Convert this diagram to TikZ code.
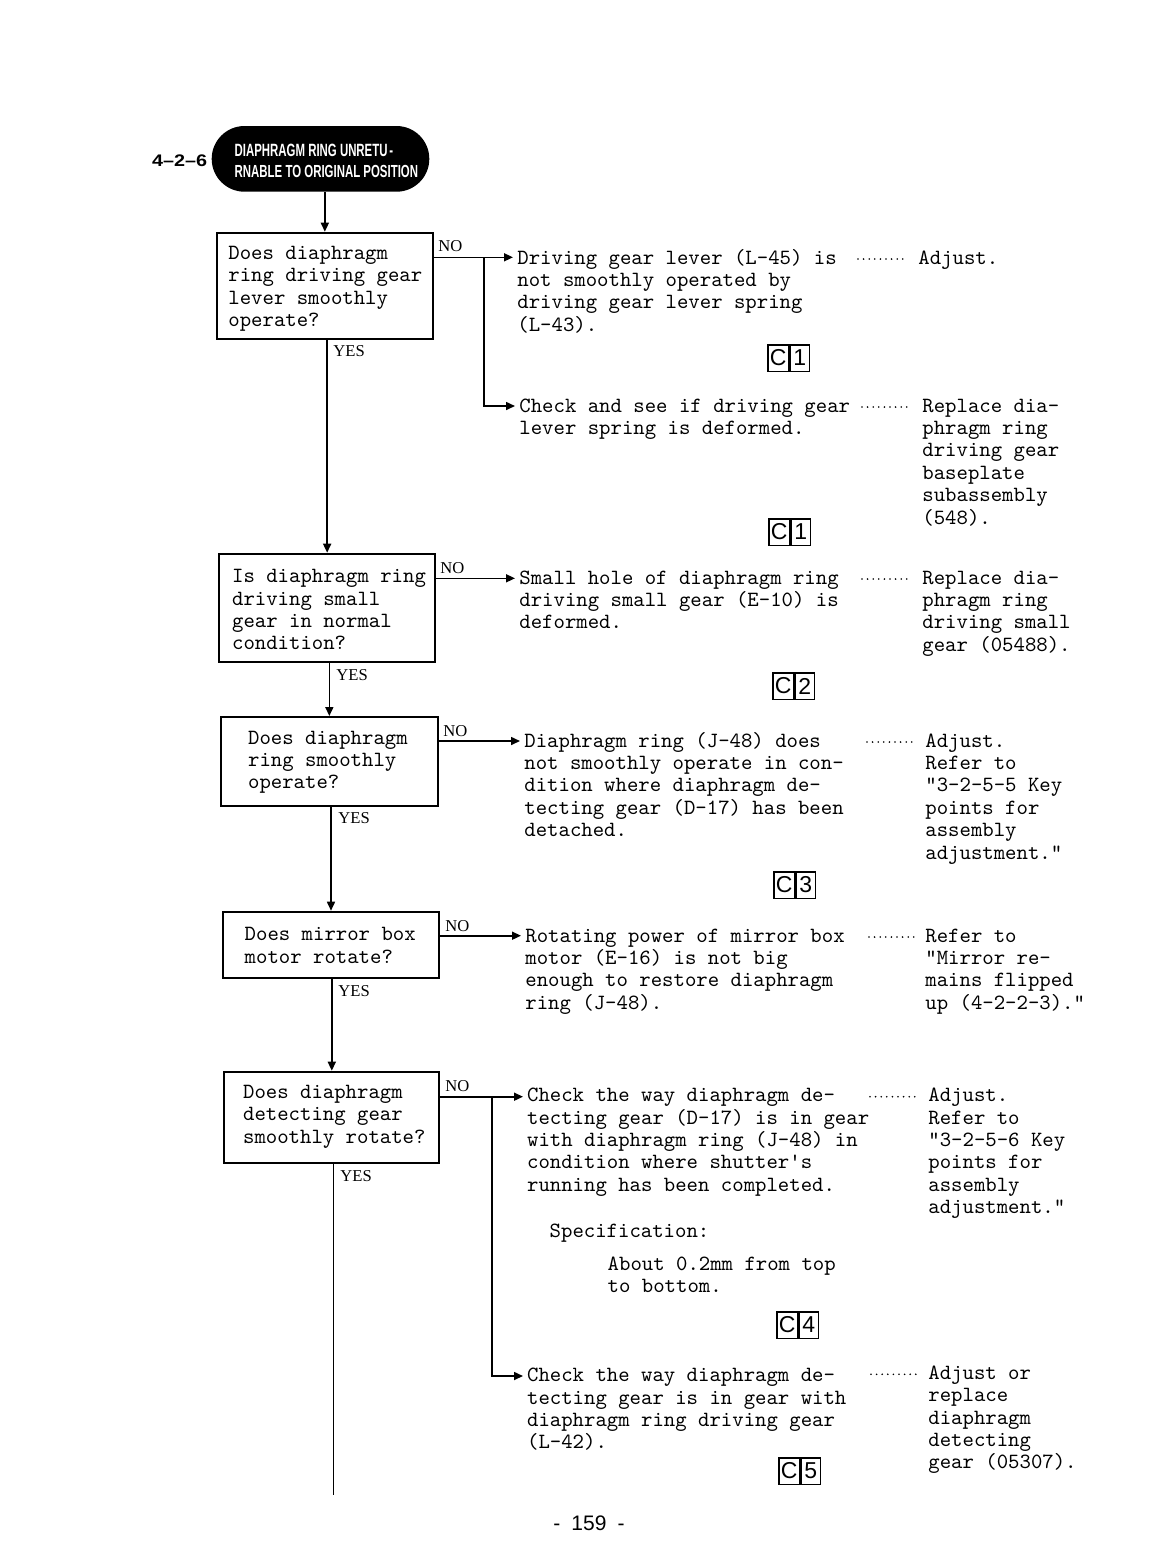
\documentclass[tikz,border=0pt]{standalone}
\usepackage{fontspec}
\usepackage{graphicx}
\usetikzlibrary{arrows.meta}
\newfontfamily\hs{Liberation Sans}
\newfontfamily\lbl{Liberation Serif}
\newcommand\tw{\ttfamily}
\newcommand\ml[1]{\begin{tabular}[t]{@{}l@{}}#1\end{tabular}}
\begin{document}
\begin{tikzpicture}[x=0.5pt,y=-0.5pt,
  txt/.style={font=\tw\fontsize{10.86}{11.2}\selectfont, inner sep=0pt, anchor=base west},
  yn/.style={font=\lbl\fontsize{8.3}{9}\selectfont, inner sep=0pt, anchor=base west},
  qbox/.style={draw, line width=1pt, inner sep=0pt, anchor=north west},
  conn/.style={line width=0.8pt},
  arr/.style={line width=0.8pt, -{Triangle[length=4.5pt,width=4pt]}},
  leader/.style={line width=0.9pt, line cap=round, dash pattern=on 0pt off 2.8pt},
  ccell/.style={draw, line width=0.75pt, inner sep=0pt, anchor=north west, minimum height=13.25pt, font=\hs\fontsize{11.5}{12}\selectfont}
]
\fill[white] (0,0) rectangle (1168,1560);
\useasboundingbox (0,0) rectangle (1168,1560);

% header
\node[inner sep=0pt, anchor=base west, font=\hs\bfseries\fontsize{8}{8}\selectfont] (num) at (151.7,166.7) {\resizebox{27.5pt}{5.85pt}{4\textendash 2\textendash 6}};
\node[fill=black, rounded corners=16.4pt, minimum width=108.8pt, minimum height=32.85pt, inner sep=0pt] (hd) at (320.5,158.85) {};
\node[inner sep=0pt, anchor=base west, text=white, font=\hs\bfseries\fontsize{8}{10.65}\selectfont] (hdt) at (234.3,156) {\ml{\resizebox{79.3pt}{6.2pt}{DIAPHRAGM RING UNRETU\,-}\\\resizebox{91.7pt}{6.1pt}{RNABLE TO ORIGINAL POSITION}}};

% question boxes
\node[qbox, minimum width=107.85pt, minimum height=53.3pt] (q1) at (216,231.7) {};
\node[qbox, minimum width=107.85pt, minimum height=54pt] (q2) at (218.3,552.7) {};
\node[qbox, minimum width=108.35pt, minimum height=44.5pt] (q3) at (220,716) {};
\node[qbox, minimum width=107.7pt, minimum height=33.3pt] (q4) at (222.3,910.7) {};
\node[qbox, minimum width=107.5pt, minimum height=45.5pt] (q5) at (223.3,1070.7) {};

\node[txt] (q1t) at (228,259.3) {\ml{Does diaphragm\\ring driving gear\\lever smoothly\\operate?}};
\node[txt] (q2t) at (231.7,582.7) {\ml{Is diaphragm ring\\driving small\\gear in normal\\condition?}};
\node[txt] (q3t) at (247.7,744) {\ml{Does diaphragm\\ring smoothly\\operate?}};
\node[txt] (q4t) at (244.3,940.7) {\ml{Does mirror box\\motor rotate?}};
\node[txt] (q5t) at (242.7,1098.3) {\ml{Does diaphragm\\detecting gear\\smoothly rotate?}};

% YES / NO labels
\node[yn] (n1) at (438,251.7) {NO};
\node[yn] (n2) at (440,573) {NO};
\node[yn] (n3) at (443,736.7) {NO};
\node[yn] (n4) at (445,931.7) {NO};
\node[yn] (n5) at (445,1091.7) {NO};
\node[yn] (y1) at (333,356.7) {YES};
\node[yn] (y2) at (336,680) {YES};
\node[yn] (y3) at (338,823) {YES};
\node[yn] (y4) at (338,996.7) {YES};
\node[yn] (y5) at (340,1181) {YES};

% vertical YES connectors
\draw[arr] (q1.north |- hd.south) -- (q1.north);
\draw[arr] (q2.north |- q1.south) -- (q2.north);
\draw[arr] (q3.north |- q2.south) -- (q3.north);
\draw[arr] (q4.north |- q3.south) -- (q4.north);
\draw[arr] (q5.north |- q4.south) -- (q5.north);
\coordinate (e5) at (333.3,1495);
\draw[conn] (q5.south -| e5) -- (e5);

% NO connectors
\coordinate (a1) at (513,257.3);
\coordinate (j1) at (484,257.3);
\coordinate (a2) at (515,406);
\coordinate (a3) at (515,578.3);
\coordinate (a4) at (520,741);
\coordinate (a5) at (521,935.7);
\coordinate (a6) at (523,1096.7);
\coordinate (j5) at (491.7,1096.7);
\coordinate (a7) at (523,1376);
\draw[arr] (q1.east |- a1) -- (a1);
\draw[arr] (j1) |- (a2);
\draw[arr] (q2.east |- a3) -- (a3);
\draw[arr] (q3.east |- a4) -- (a4);
\draw[arr] (q4.east |- a5) -- (a5);
\draw[arr] (q5.east |- a6) -- (a6);
\draw[arr] (j5) |- (a7);

% middle texts
\node[txt] (t1) at (517,264) {\ml{Driving gear lever (L-45) is\\not smoothly operated by\\driving gear lever spring\\(L-43).}};
\node[txt] (t2) at (519,412) {\ml{Check and see if driving gear\\lever spring is deformed.}};
\node[txt] (t3) at (519,584) {\ml{Small hole of diaphragm ring\\driving small gear (E-10) is\\deformed.}};
\node[txt] (t4) at (524,747) {\ml{Diaphragm ring (J-48) does\\not smoothly operate in con-\\dition where diaphragm de-\\tecting gear (D-17) has been\\detached.}};
\node[txt] (t5) at (525,942) {\ml{Rotating power of mirror box\\motor (E-16) is not big\\enough to restore diaphragm\\ring (J-48).}};
\node[txt] (t6) at (526.7,1101.7) {\ml{Check the way diaphragm de-\\tecting gear (D-17) is in gear\\with diaphragm ring (J-48) in\\condition where shutter's\\running has been completed.}};
\node[txt] (s6) at (549.3,1237.7) {Specification:};
\node[txt] (p6) at (607.3,1270) {\ml{About 0.2mm from top\\to bottom.}};
\node[txt] (t7) at (526.7,1381.7) {\ml{Check the way diaphragm de-\\tecting gear is in gear with\\diaphragm ring driving gear\\(L-42).}};

% right texts
\node[txt] (r1) at (918,264) {Adjust.};
\node[txt] (r2) at (922,412) {\ml{Replace dia-\\phragm ring\\driving gear\\baseplate\\subassembly\\(548).}};
\node[txt] (r3) at (922,584) {\ml{Replace dia-\\phragm ring\\driving small\\gear (05488).}};
\node[txt] (r4) at (925,747) {\ml{Adjust.\\Refer to\\"3-2-5-5 Key\\points for\\assembly\\adjustment."}};
\node[txt] (r5) at (925,942) {\ml{Refer to\\"Mirror re-\\mains flipped\\up (4-2-2-3)."}};
\node[txt] (r6) at (928,1101.7) {\ml{Adjust.\\Refer to\\"3-2-5-6 Key\\points for\\assembly\\adjustment."}};
\node[txt] (r7) at (928,1379.3) {\ml{Adjust or\\replace\\diaphragm\\detecting\\gear (05307).}};

% leaders
\draw[leader] (858,259) -- (908,259);
\draw[leader] (862,407) -- (910,407);
\draw[leader] (862,579) -- (910,579);
\draw[leader] (867,742) -- (914,742);
\draw[leader] (869,937) -- (916,937);
\draw[leader] (870,1096.7) -- (916,1096.7);
\draw[leader] (871,1374.3) -- (916.7,1374.3);

% C boxes
\node[ccell, minimum width=10.5pt] (c1c) at (767,344) {C};
\node[ccell, minimum width=9.5pt] (c1n) at (c1c.north east) {1};
\node[ccell, minimum width=10.5pt] (c2c) at (768,518) {C};
\node[ccell, minimum width=9.5pt] (c2n) at (c2c.north east) {1};
\node[ccell, minimum width=10.5pt] (c3c) at (772,672) {C};
\node[ccell, minimum width=9.5pt] (c3n) at (c3c.north east) {2};
\node[ccell, minimum width=10.5pt] (c4c) at (773,871) {C};
\node[ccell, minimum width=9.5pt] (c4n) at (c4c.north east) {3};
\node[ccell, minimum width=10.5pt] (c5c) at (776,1311) {C};
\node[ccell, minimum width=9.5pt] (c5n) at (c5c.north east) {4};
\node[ccell, minimum width=10.5pt] (c6c) at (778,1457) {C};
\node[ccell, minimum width=9.5pt] (c6n) at (c6c.north east) {5};

% page number
\node[inner sep=0pt, anchor=base, font=\hs\fontsize{10.5}{12}\selectfont] (pg) at (589,1530) {-\hspace{5.5pt}159\hspace{5.5pt}-};
\end{tikzpicture}
\end{document}
